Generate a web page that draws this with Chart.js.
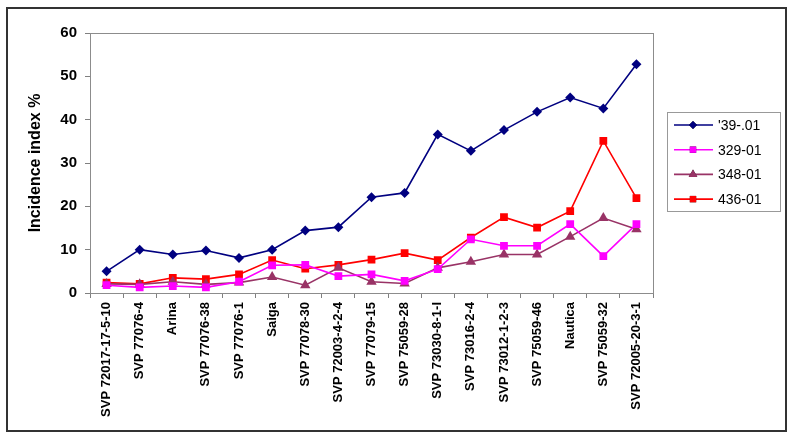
<!DOCTYPE html>
<html>
<head>
<meta charset="utf-8">
<script src="https://cdn.jsdelivr.net/npm/chart.js@4"></script>
<style>
  body { margin: 0; background: #fff; }
  #wrap { position: relative; width: 795px; height: 441px; }
</style>
</head>
<body>
<div id="wrap"><canvas id="myChart" width="795" height="441"></canvas></div>
<script>
// Varieties along the x-axis
var varieties = ["SVP 72017-17-5-10", "SVP 77076-4", "Arina", "SVP 77076-38", "SVP 77076-1", "Saiga",
  "SVP 77078-30", "SVP 72003-4-2-4", "SVP 77079-15", "SVP 75059-28", "SVP 73030-8-1-I", "SVP 73016-2-4",
  "SVP 73012-1-2-3", "SVP 75059-46", "Nautica", "SVP 75059-32", "SVP 72005-20-3-1"];
// Incidence index per isolate
var iso39 = [5.0, 10.0, 8.9, 9.8, 8.1, 10.0, 14.4, 15.2, 22.1, 23.1, 36.6, 32.8, 37.6, 41.8, 45.1, 42.6, 52.8];
var iso329 = [1.8, 1.3, 1.6, 1.3, 2.6, 6.4, 6.5, 3.9, 4.3, 2.8, 5.5, 12.4, 10.9, 10.9, 15.9, 8.5, 15.9];
var iso348 = [2.1, 2.0, 2.6, 2.0, 2.4, 3.7, 1.8, 5.8, 2.6, 2.2, 5.8, 7.2, 8.9, 8.9, 13.0, 17.3, 14.7];
var iso436 = [2.4, 2.1, 3.5, 3.2, 4.3, 7.6, 5.6, 6.5, 7.7, 9.2, 7.6, 12.8, 17.5, 15.1, 18.9, 35.1, 21.9];
var yTicks = [0, 10, 20, 30, 40, 50, 60];

var FONT = "Arial, 'Liberation Sans', sans-serif";

function series(label, data, color, style, radius) {
  return {
    label: label,
    data: data,
    borderColor: color,
    backgroundColor: color,
    borderWidth: 1.6,
    pointStyle: style,
    pointRadius: radius,
    pointHoverRadius: radius,
    pointBorderWidth: 0,
    fill: false,
    tension: 0
  };
}

// outer frame + boxed legend (line with marker, like the original)
var framePlugin = {
  id: 'frame',
  afterDraw: function (chart) {
    var ctx = chart.ctx;
    ctx.save();
    ctx.strokeStyle = '#333';
    ctx.lineWidth = 2;
    ctx.strokeRect(7, 8, 779, 423);

    var a = chart.chartArea;
    ctx.strokeStyle = '#8c8c8c';
    ctx.lineWidth = 1;
    ctx.strokeRect(a.left + 0.5, a.top + 0.5, a.right - a.left, a.bottom - a.top);

    var bx = 667, by = 112, bw = 113, bh = 99;
    ctx.strokeStyle = '#999';
    ctx.strokeRect(bx + 0.5, by + 0.5, bw, bh);
    ctx.font = '14px ' + FONT;
    ctx.textBaseline = 'middle';
    ctx.textAlign = 'left';
    chart.data.datasets.forEach(function (ds, i) {
      var y = by + 13 + i * 24.7;
      ctx.strokeStyle = ds.borderColor;
      ctx.lineWidth = 1.6;
      ctx.beginPath();
      ctx.moveTo(bx + 7, y);
      ctx.lineTo(bx + 46, y);
      ctx.stroke();
      Chart.helpers.drawPoint(ctx, {
        pointStyle: ds.pointStyle, radius: ds.pointRadius - 1, rotation: 0, borderWidth: 0
      }, bx + 26, y);
      ctx.fillStyle = ds.borderColor;
      ctx.fill();
      ctx.fillStyle = '#000';
      ctx.fillText(ds.label, bx + 51, y + 1);
    });
    ctx.restore();
  }
};

var ctx = document.getElementById("myChart");
var myChart = new Chart(ctx, {
  type: 'line',
  data: {
    labels: varieties,
    datasets: [
      series("'39-.01", iso39, "#000080", 'rectRot', 5),
      series("329-01", iso329, "#FF00FF", 'rect', 5.5),
      series("348-01", iso348, "#993366", 'triangle', 6),
      series("436-01", iso436, "#FF0000", 'rect', 5.5)
    ]
  },
  options: {
    responsive: false,
    animation: false,
    layout: { padding: { left: 0, right: 142, top: 33, bottom: 0 } },
    plugins: {
      legend: { display: false },
      tooltip: { enabled: false }
    },
    scales: {
      x: {
        offset: true,
        afterFit: function (s) { s.height = 148; },
        grid: { display: true, drawOnChartArea: false, offset: true, tickLength: 5, color: '#808080' },
        border: { display: false },
        ticks: {
          autoSkip: false, maxRotation: 90, minRotation: 90, padding: 4,
          color: '#000', font: { family: FONT, size: 13, weight: 'bold' }
        }
      },
      y: {
        min: 0, max: 60,
        afterFit: function (s) { s.width = 90; },
        afterBuildTicks: function (s) { s.ticks = yTicks.map(function (v) { return { value: v }; }); },
        grid: { display: true, drawOnChartArea: false, tickLength: 5, color: '#808080' },
        border: { display: false },
        ticks: { padding: 8, color: '#000', font: { family: FONT, size: 15, weight: 'bold' } },
        title: {
          display: true, text: 'Incidence index %', color: '#000',
          padding: { top: 26, bottom: 0 },
          font: { family: FONT, size: 16, weight: 'bold' }
        }
      }
    }
  },
  plugins: [framePlugin]
});
</script>
</body>
</html>
